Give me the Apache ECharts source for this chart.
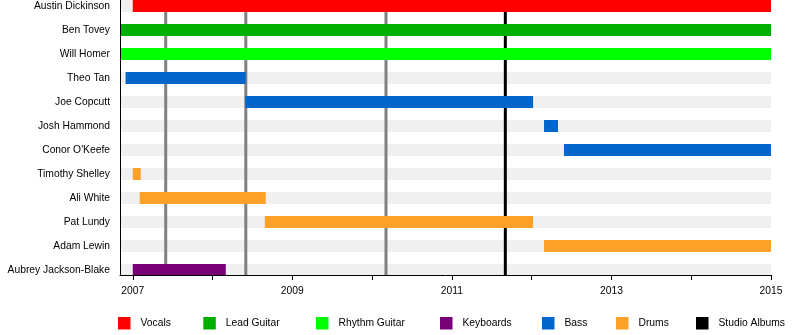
<!DOCTYPE html>
<html>
<head>
<meta charset="utf-8">
<script src="https://cdn.jsdelivr.net/npm/echarts@6/dist/echarts.min.js"></script>
<style>
html,body{margin:0;padding:0;background:#fff;}
#chart{width:800px;height:335px;}
</style>
</head>
<body>
<div id="chart"></div>
<script>
// ---- data ----
const members = ['Austin Dickinson','Ben Tovey','Will Homer','Theo Tan','Joe Copcutt','Josh Hammond',"Conor O'Keefe",'Timothy Shelley','Ali White','Pat Lundy','Adam Lewin','Aubrey Jackson-Blake'];
const memberRole = ['Vocals','Lead Guitar','Rhythm Guitar','Bass','Bass','Bass','Bass','Drums','Drums','Drums','Drums','Keyboards'];
const periodStart = [2007.0, 2006.84, 2006.84, 2006.91, 2008.41, 2012.155, 2012.405, 2007.0, 2007.087, 2008.655, 2012.155, 2007.0];
const periodEnd   = [2015.0, 2015.0, 2015.0, 2008.415, 2012.018, 2012.33, 2015.0, 2007.10, 2008.667, 2012.018, 2015.0, 2008.166];
const roles = ['Vocals','Lead Guitar','Rhythm Guitar','Keyboards','Bass','Drums'];
const roleColors = ['#ff0000','#00b000','#00ff00','#780078','#0066cc','#ffa028'];
const otherReleases = [2007.413, 2008.417, 2010.174];
const studioAlbums = [2011.67];
const timelineStart = 2006.84;
const timelineEnd = 2015.0;
const tickYears = [2007, 2008, 2009, 2010, 2011, 2012, 2013, 2014, 2015];
const labelYears = [2007, 2009, 2011, 2013, 2015];
const legendNames = ['Vocals','Lead Guitar','Rhythm Guitar','Keyboards','Bass','Drums','Studio Albums'];
const legendLeft = [118, 203.3, 316, 440, 542, 616, 696];

// ---- chart ----
const FONT = '"Liberation Sans", Arial, Helvetica, sans-serif';
const FS = 10.3;
const chart = echarts.init(document.getElementById('chart'), null, {renderer: 'canvas'});

function barRender(color) {
  return function (params, api) {
    const s = api.coord([api.value(1), api.value(0)]);
    const e = api.coord([api.value(2), api.value(0)]);
    const h = api.size([0, 0.5])[1];
    return {
      type: 'rect',
      shape: {x: s[0], y: s[1] - h / 2, width: e[0] - s[0], height: h},
      style: {fill: color}
    };
  };
}
function vlineRender(color) {
  return function (params, api) {
    const p = api.coord([api.value(0), 0]);
    const cs = params.coordSys;
    return {
      type: 'line',
      shape: {x1: p[0], y1: cs.y, x2: p[0], y2: cs.y + cs.height},
      style: {stroke: color, lineWidth: 3}
    };
  };
}

const bandData = members.map((m, i) => [i, timelineStart, timelineEnd]);

const series = [];
series.push({
  type: 'custom', name: '_bands', silent: true, z: 1,
  renderItem: barRender('#f0f0f0'),
  encode: {x: [1, 2], y: 0},
  data: bandData
});
series.push({
  type: 'custom', name: '_releases', silent: true, z: 2,
  renderItem: vlineRender('#808080'),
  encode: {x: 0},
  data: otherReleases.map(v => [v])
});
series.push({
  type: 'custom', name: 'Studio Albums', silent: true, z: 2,
  itemStyle: {color: '#000000'},
  renderItem: vlineRender('#000000'),
  encode: {x: 0},
  data: studioAlbums.map(v => [v])
});
roles.forEach((r, ri) => {
  const data = [];
  members.forEach((m, i) => {
    if (memberRole[i] === r) data.push([i, periodStart[i], periodEnd[i]]);
  });
  series.push({
    type: 'custom', name: r, z: 3, silent: true,
    itemStyle: {color: roleColors[ri]},
    renderItem: barRender(roleColors[ri]),
    encode: {x: [1, 2], y: 0},
    data: data
  });
});

const legends = legendNames.map((n, i) => ({
  data: [n], left: legendLeft[i], top: 317, padding: 0,
  itemWidth: 12.5, itemHeight: 12.5, icon: 'rect', selectedMode: false,
  textStyle: {fontFamily: FONT, fontSize: FS, color: '#000', padding: [0, 0, 0, 5]}
}));

chart.setOption({
  animation: false,
  backgroundColor: '#ffffff',
  textStyle: {fontFamily: FONT},
  grid: {left: 120, right: 29, top: 0, bottom: 60},
  legend: legends,
  xAxis: {
    type: 'value', min: timelineStart, max: timelineEnd, z: 10,
    axisLine: {show: true, onZero: false, lineStyle: {color: '#000', width: 1}},
    axisTick: {show: true, length: 5, customValues: tickYears, lineStyle: {color: '#000'}},
    axisLabel: {show: true, customValues: labelYears, margin: 11, color: '#000', fontSize: FS, fontFamily: FONT,
                formatter: v => String(Math.round(v))},
    splitLine: {show: false}
  },
  yAxis: {
    type: 'value', inverse: true, min: -0.25, max: -0.25 + 275 / 24, z: 10,
    axisLine: {show: true, onZero: false, lineStyle: {color: '#000', width: 1}},
    axisTick: {show: false},
    axisLabel: {show: true, customValues: members.map((m, i) => i), margin: 10, padding: [4, 0, 0, 0],
                color: '#000', fontSize: FS, fontFamily: FONT,
                formatter: v => members[Math.round(v)] || ''},
    splitLine: {show: false}
  },
  series: series
});
</script>
</body>
</html>
